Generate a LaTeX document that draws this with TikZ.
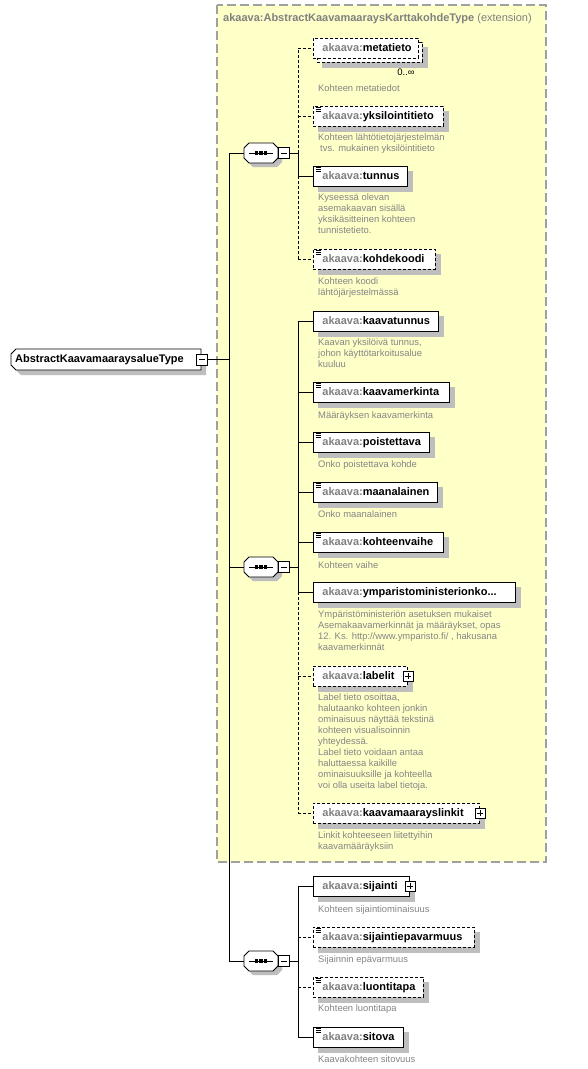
\documentclass[tikz,border=0pt]{standalone}
\usepackage{fontspec}
\setmainfont{Liberation Sans}
\usetikzlibrary{calc}
\pgfdeclarelayer{bg}
\pgfdeclarelayer{shd}
\pgfsetlayers{bg,shd,main}
\definecolor{extfill}{HTML}{FFFFC8}
\definecolor{extborder}{HTML}{A0A0A0}
\definecolor{shadowc}{HTML}{BEBEBE}
\definecolor{pfxc}{HTML}{808080}
\definecolor{descc}{HTML}{858585}
\newcommand{\elname}[2]{\makebox[#1][l]{\textcolor{pfxc}{akaava:}\textcolor{black}{#2}}}
\newcommand{\octpath}[2]{({#1+5},{#2-10}) -- ({#1+29},{#2-10}) -- ({#1+34},{#2-5}) -- ({#1+34},{#2+5}) -- ({#1+29},{#2+10}) -- ({#1+5},{#2+10}) -- ({#1},{#2+5}) -- ({#1},{#2-5}) -- cycle}
\tikzset{
  elbox/.style={draw=black, fill=white, line width=0.9pt, minimum height=20pt,
    inner xsep=9pt, inner ysep=0pt, anchor=north west, text height=8pt, text depth=2.5pt,
    font=\fontsize{11}{13}\selectfont\bfseries},
  optdash/.style={dash pattern=on 3pt off 2pt},
  optbox/.style={elbox, optdash},
  desc/.style={anchor=north west, inner sep=0pt, align=left, text=descc,
    font=\fontsize{9.4}{11}\selectfont, execute at begin node=\strut},
  conn/.style={line width=0.9pt},
  optconn/.style={conn, optdash},
  minusbox/.style={draw, fill=white, line width=0.8pt, minimum size=11pt, inner sep=0pt,
    path picture={\draw[line width=0.8pt] ([xshift=2.5pt]path picture bounding box.west) -- ([xshift=-2.5pt]path picture bounding box.east);}},
  plusbox/.style={draw, fill=white, line width=0.8pt, minimum size=10pt, inner sep=0pt,
    path picture={\draw[line width=0.8pt] ([xshift=2pt]path picture bounding box.west) -- ([xshift=-2pt]path picture bounding box.east);
      \draw[line width=0.8pt] ([yshift=-2pt]path picture bounding box.north) -- ([yshift=2pt]path picture bounding box.south);}},
  iconline/.style={line width=0.8pt}
}
\newcommand{\icon}[1]{%
  \draw[iconline] ([xshift=2.5pt,yshift=-1.5pt]#1.north west) -- ++(5.5,0);
  \draw[iconline] ([xshift=2.5pt,yshift=-3.5pt]#1.north west) -- ++(5.5,0);
  \draw[iconline] ([xshift=2.5pt,yshift=-5.5pt]#1.north west) -- ++(5.5,0);}
\newcommand{\seqsym}[3]{%
  \fill[shadowc] \octpath{#2+4}{#3+4};
  \draw[fill=white, line width=0.9pt] \octpath{#2}{#3};
  \node[inner sep=0pt, minimum width=34pt, minimum height=20pt] (#1) at ({#2+17},{#3}) {};
  \draw[line width=1pt] ({#2+5},{#3}) -- ({#2+29},{#3});
  \fill ({#2+12.5-1.7},{#3-1.7}) rectangle ++(3.4,3.4);
  \fill ({#2+17-1.7},{#3-1.7}) rectangle ++(3.4,3.4);
  \fill ({#2+21.5-1.7},{#3-1.7}) rectangle ++(3.4,3.4);
  \node[minusbox] (#1m) at ({#2+39.5},{#3}) {};}
\begin{document}
\begin{tikzpicture}[x=1pt,y=-1pt]
\begin{pgfonlayer}{bg}
\fill[white] (0,0) rectangle (588,1069);
% extension box
\draw[extborder, fill=extfill, line width=1.2pt, dash pattern=on 9pt off 4pt] (217,5) rectangle (546,862);
\end{pgfonlayer}
\useasboundingbox (0,0) rectangle (588,1069);

\node[anchor=west, inner sep=0pt, font=\fontsize{11}{13}\selectfont, text=pfxc] (title) at (223,19)
  {\textbf{akaava:AbstractKaavamaaraysKarttakohdeType} (extension)};

% root
\fill[shadowc] (21,354) -- (206,354) -- (206,375) -- (21,375) -- (16,370) -- (16,359) -- cycle;
\draw[fill=white, line width=0.9pt] (16,349) -- (201,349) -- (201,370) -- (16,370) -- (11,365) -- (11,354) -- cycle;
\node[anchor=west, inner sep=0pt, font=\fontsize{11}{13}\selectfont\bfseries] (root) at (15,359.5) {AbstractKaavamaaraysalueType};
\node[minusbox] (rootm) at (201.5,359.5) {};

% sequences
\seqsym{s1}{244}{153}
\seqsym{s2}{244}{567}
\seqsym{s3}{244}{961}

% ---- sequence 1 children
\node[optbox, minimum width=105pt] (metaback) at (317,42) {};
\node[optbox, minimum width=105pt] (metatieto) at (313,38) {\elname{87pt}{metatieto}};
\node[inner sep=0pt, font=\fontsize{9.5}{11}\selectfont] (card) at (406,72) {0..∞};
\node[desc] (d1) at (318,83.3) {Kohteen metatiedot};

\node[optbox, minimum width=130pt] (yksi) at (313,106) {\elname{112pt}{yksilointitieto}};
\icon{yksi}
\node[desc] (d2) at (318,133.3) {Kohteen lähtötietojärjestelmän\\\hspace*{2pt}tvs. mukainen yksilöintitieto};

\node[elbox, minimum width=94pt] (tunnus) at (313,166) {\elname{76pt}{tunnus}};
\icon{tunnus}
\node[desc] (d3) at (318,193.3) {Kyseessä olevan\\asemakaavan sisällä\\yksikäsitteinen kohteen\\tunnistetieto.};

\node[optbox, minimum width=122pt] (kohdekoodi) at (313,249) {\elname{104pt}{kohdekoodi}};
\icon{kohdekoodi}
\node[desc] (d4) at (318,277.3) {Kohteen koodi\\lähtöjärjestelmässä};

% ---- sequence 2 children
\node[elbox, minimum width=125pt] (kaavatunnus) at (313,311) {\elname{107pt}{kaavatunnus}};
\node[desc] (d5) at (318,338.3) {Kaavan yksilöivä tunnus,\\johon käyttötarkoitusalue\\kuuluu};

\node[elbox, minimum width=136pt] (kaavamerkinta) at (313,382) {\elname{118pt}{kaavamerkinta}};
\icon{kaavamerkinta}
\node[desc] (d6) at (318,410.3) {Määräyksen kaavamerkinta};

\node[elbox, minimum width=116pt] (poistettava) at (313,432) {\elname{98pt}{poistettava}};
\icon{poistettava}
\node[desc] (d7) at (318,459.3) {Onko poistettava kohde};

\node[elbox, minimum width=124pt] (maanalainen) at (313,482) {\elname{106pt}{maanalainen}};
\icon{maanalainen}
\node[desc] (d8) at (318,509.3) {Onko maanalainen};

\node[elbox, minimum width=130pt] (kohteenvaihe) at (313,532) {\elname{112pt}{kohteenvaihe}};
\icon{kohteenvaihe}
\node[desc] (d9) at (318,560.3) {Kohteen vaihe};

\node[elbox, minimum width=202pt] (ymp) at (313,582) {\elname{184pt}{ymparistoministerionko...}};
\node[desc] (d10) at (318,610.3) {Ympäristöministeriön asetuksen mukaiset\\Asemakaavamerkinnät ja määräykset, opas\\12. Ks. http://www.ymparisto.fi/ , hakusana\\kaavamerkinnät};

\node[optbox, minimum width=94pt] (labelit) at (313,666) {\elname{76pt}{labelit}};
\node[plusbox] (labelitp) at (labelit.east) {};
\node[desc] (d11) at (318,693.3) {Label tieto osoittaa,\\halutaanko kohteen jonkin\\ominaisuus näyttää tekstinä\\kohteen visualisoinnin\\yhteydessä.\\Label tieto voidaan antaa\\haluttaessa kaikille\\ominaisuuksille ja kohteella\\voi olla useita label tietoja.};

\node[optbox, minimum width=166pt] (linkit) at (313,803) {\elname{148pt}{kaavamaarayslinkit}};
\node[plusbox] (linkitp) at (linkit.east) {};
\node[desc] (d12) at (318,831.3) {Linkit kohteeseen liitettyihin\\kaavamääräyksiin};

% ---- sequence 3 children
\node[elbox, minimum width=96pt] (sijainti) at (313,876) {\elname{78pt}{sijainti}};
\node[plusbox] (sijaintip) at (sijainti.east) {};
\node[desc] (d13) at (318,904.3) {Kohteen sijaintiominaisuus};

\node[optbox, minimum width=161pt] (epav) at (313,927) {\elname{143pt}{sijaintiepavarmuus}};
\icon{epav}
\node[desc] (d14) at (318,954.3) {Sijainnin epävarmuus};

\node[optbox, minimum width=110pt] (luontitapa) at (313,977) {\elname{92pt}{luontitapa}};
\icon{luontitapa}
\node[desc] (d15) at (318,1003.3) {Kohteen luontitapa};

\node[elbox, minimum width=90pt] (sitova) at (313,1027) {\elname{72pt}{sitova}};
\icon{sitova}
\node[desc] (d16) at (318,1054.3) {Kaavakohteen sitovuus};

% ---- shadows
\begin{pgfonlayer}{shd}
\foreach \n in {metaback,yksi,tunnus,kohdekoodi,kaavatunnus,kaavamerkinta,poistettava,maanalainen,kohteenvaihe,ymp,labelit,linkit,sijainti,epav,luontitapa,sitova}
  \fill[shadowc] ([shift={(5pt,-5pt)}]\n.south west) rectangle ([shift={(5pt,-5pt)}]\n.north east);
\end{pgfonlayer}

% ---- connectors
\coordinate (t1) at (229,153);
\coordinate (t3) at (229,961);
\draw[conn] (t1) -- (t3);
\draw[conn] (rootm.east) -- (rootm.east -| t1);
\draw[conn] (t1) -- (s1.west);
\draw[conn] (s2.west -| t1) -- (s2.west);
\draw[conn] (t3) -- (s3.west);

\coordinate (b1) at (298,153);
\coordinate (b2) at (298,567);
\coordinate (b3) at (298,961);
\draw[conn] (s1m.east) -- (b1);
\draw[conn] (s2m.east) -- (b2);
\draw[conn] (s3m.east) -- (b3);

% bus 1
\draw[optconn] (b1) -- (b1 |- metatieto.west);
\draw[conn] (b1) -- (b1 |- tunnus.west);
\draw[optconn] (b1 |- tunnus.west) -- (b1 |- kohdekoodi.west);
\draw[optconn] (b1 |- metatieto.west) -- (metatieto.west);
\draw[optconn] (b1 |- yksi.west) -- (yksi.west);
\draw[conn] (b1 |- tunnus.west) -- (tunnus.west);
\draw[optconn] (b1 |- kohdekoodi.west) -- (kohdekoodi.west);

% bus 2
\draw[conn] (b2 |- kaavatunnus.west) -- (b2 |- ymp.west);
\draw[optconn] (b2 |- ymp.west) -- (b2 |- linkit.west);
\foreach \n in {kaavatunnus,kaavamerkinta,poistettava,maanalainen,kohteenvaihe,ymp}
  \draw[conn] (b2 |- \n.west) -- (\n.west);
\draw[optconn] (b2 |- labelit.west) -- (labelit.west);
\draw[optconn] (b2 |- linkit.west) -- (linkit.west);

% bus 3
\draw[conn] (b3 |- sijainti.west) -- (b3 |- sitova.west);
\draw[conn] (b3 |- sijainti.west) -- (sijainti.west);
\draw[optconn] (b3 |- epav.west) -- (epav.west);
\draw[optconn] (b3 |- luontitapa.west) -- (luontitapa.west);
\draw[conn] (b3 |- sitova.west) -- (sitova.west);
\end{tikzpicture}
\end{document}
